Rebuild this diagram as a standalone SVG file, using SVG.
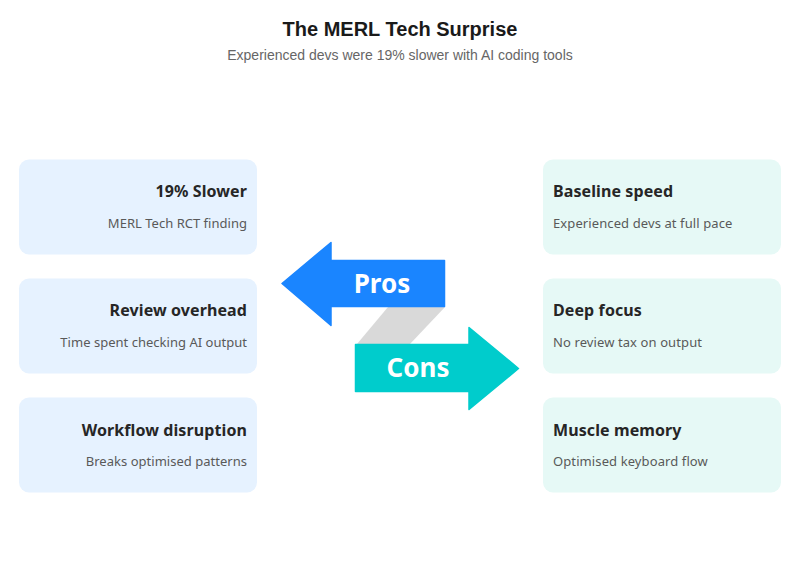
<svg xmlns="http://www.w3.org/2000/svg" width="800" height="577" viewBox="0 0 800 577">
<style>
.t{font-family:"Liberation Sans",Arial,sans-serif;text-anchor:middle}
.h,.s,.a{font-family:"Noto Sans",sans-serif}
.h{font-size:16px;font-weight:700;fill:#262626;letter-spacing:.1px}
.s{font-size:13px;fill:#595959;letter-spacing:.1px}
.s.e{letter-spacing:.02px}
.a{font-size:26px;font-weight:700;fill:#fff;text-anchor:middle}
.l{fill:#e6f2ff}.r{fill:#e6f9f6}
.e{text-anchor:end}
</style>
<rect width="800" height="577" fill="#fff"/>
<text class="t" x="400" y="36" font-size="20" font-weight="700" fill="#1a1a1a">The MERL Tech Surprise</text>
<text class="t" x="400" y="60" font-size="14" fill="#666">Experienced devs were 19% slower with AI coding tools</text>
<g id="connectors">
<path d="M388 307H445L410 344H357Z" fill="#d9d9d9"/>
</g>
<g id="pros"><path d="M282 283.500L331 242.500V260.500H444.500V306.500H331V325.500Z" fill="#1a85ff" stroke="#1a85ff" stroke-width="1.500" stroke-linejoin="round"/><text class="a" x="382" y="293">Pros</text></g>
<g id="cons"><path d="M355.500 344.500H469V327.500L518.500 368.500L469 409.500V391.500H355.500Z" fill="#00cccc" stroke="#00cccc" stroke-width="1.500" stroke-linejoin="round"/><text class="a" x="418" y="377">Cons</text></g>
<g id="l1"><rect class="l" x="19" y="159.500" width="238" height="95" rx="10"/><text class="h e" x="247" y="197">19% Slower</text><text class="s e" x="247" y="228">MERL Tech RCT finding</text></g>
<g id="l2"><rect class="l" x="19" y="278.500" width="238" height="95" rx="10"/><text class="h e" x="247" y="316">Review overhead</text><text class="s e" x="247" y="347">Time spent checking AI output</text></g>
<g id="l3"><rect class="l" x="19" y="397.500" width="238" height="95" rx="10"/><text class="h e" x="247" y="436">Workflow disruption</text><text class="s e" x="247" y="466">Breaks optimised patterns</text></g>
<g id="r1"><rect class="r" x="543" y="159.500" width="238" height="95" rx="10"/><text class="h" x="553" y="197">Baseline speed</text><text class="s" x="553" y="228">Experienced devs at full pace</text></g>
<g id="r2"><rect class="r" x="543" y="278.500" width="238" height="95" rx="10"/><text class="h" x="553" y="316">Deep focus</text><text class="s" x="553" y="347">No review tax on output</text></g>
<g id="r3"><rect class="r" x="543" y="397.500" width="238" height="95" rx="10"/><text class="h" x="553" y="436">Muscle memory</text><text class="s" x="553" y="466">Optimised keyboard flow</text></g>
</svg>
